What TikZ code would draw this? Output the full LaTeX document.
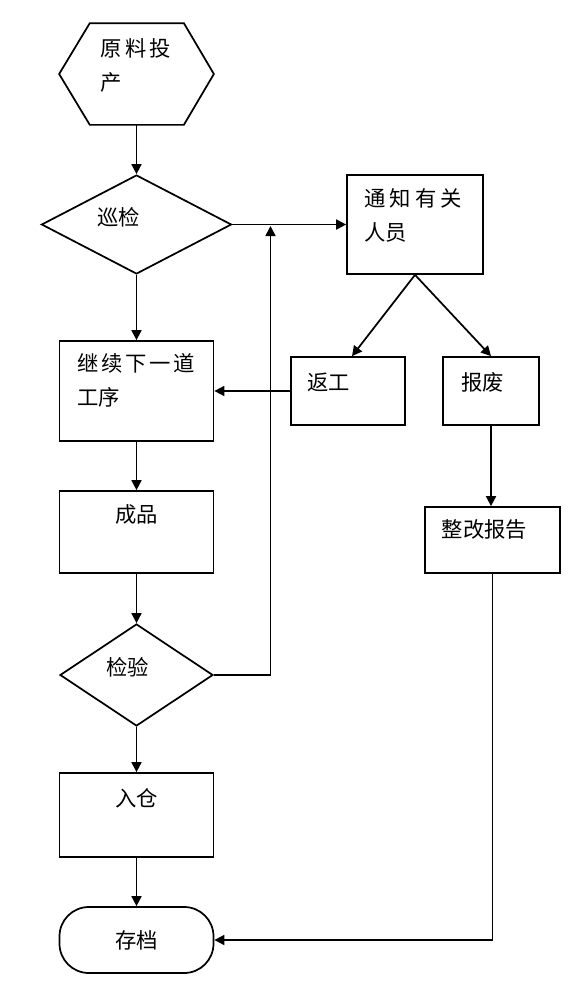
\documentclass[tikz,border=0pt]{standalone}
\usepackage{fontspec}
\newfontfamily\cjk{Noto Sans CJK SC}
\usetikzlibrary{arrows.meta,shapes.geometric}

\begin{document}
\begin{tikzpicture}[x=0.75pt,y=-0.75pt,line width=1.3pt,
	>={Triangle[length=7.5pt,width=7.5pt]},
	base node/.style={inner sep=0pt,font=\cjk\fontsize{16}{25.5}\selectfont},
	box node/.style={base node,rectangle,draw},
	hex node/.style={base node,rectangle,align=left},
	check node/.style={base node,diamond,draw,align=left},
	end node/.style={base node,rectangle,draw,rounded corners=22pt}
]
	\useasboundingbox (0,0) rectangle (578,996);

	\node[hex node,minimum width=114.75pt,minimum height=75pt,text width=54pt,text depth=39.4pt] (raw) at (136.5,74) {原\kern2.5pt料\kern2.5pt投\\产};
	\draw (raw.west) -- ([xshift=23pt]raw.north west) -- ([xshift=-22.5pt]raw.north east) -- (raw.east)
		-- ([xshift=-22.5pt]raw.south east) -- ([xshift=23pt]raw.south west) -- cycle;

	\node[check node,minimum width=142.5pt,minimum height=74.25pt,shape aspect=1.92,text width=58.5pt,text depth=12.4pt] (patrol) at (136.5,224.5) {巡检};
	\node[box node,minimum width=102pt,minimum height=74.25pt,text width=76pt,align=left,text depth=40.2pt] (notify) at (415,224.5) {通\kern3pt知\kern3pt有\kern3pt关\\人员};
	\node[box node,minimum width=115.5pt,minimum height=75pt,text width=88.5pt,align=left,text depth=42.4pt] (next) at (136.5,391) {继\kern2pt续\kern2pt下\kern2pt一\kern2pt道\\工序};
	\node[box node,minimum width=85.5pt,minimum height=51pt,text width=61.5pt,align=left,text depth=13.9pt] (rework) at (348,391) {返工};
	\node[box node,minimum width=72pt,minimum height=51pt,text width=45pt,align=left,text depth=13.9pt] (scrap) at (491,391) {报废};
	\node[box node,minimum width=115.5pt,minimum height=61.5pt,text depth=27.4pt] (product) at (136.5,532) {成品};
	\node[box node,minimum width=101.25pt,minimum height=49.5pt,text width=76pt,align=left,text depth=16.9pt] (report) at (492.5,540) {整改报告};
	\node[check node,minimum width=114.75pt,minimum height=76.5pt,shape aspect=1.5,text width=45pt,text depth=12.4pt] (check) at (136.5,675) {检验};
	\node[box node,minimum width=115.5pt,minimum height=63pt,text depth=25.9pt] (store) at (136.5,815) {入仓};
	\node[end node,minimum width=115.5pt,minimum height=49.5pt] (archive) at (136.5,940) {存档};

	\coordinate (merge) at (270.5,226);

	\draw[->] (raw.south) -- (patrol.north);
	\draw[->] (patrol.east) -- (notify.west);
	\draw[->] (patrol.south) -- (next.north);
	\draw[->] (next.south) -- (product.north);
	\draw[->] (product.south) -- (check.north);
	\draw[->] (check.south) -- (store.north);
	\draw[->] (store.south) -- (archive.north);
	\draw[->] (check.east) -| (merge);
	\draw[->] (notify.south) -- ([xshift=3pt]rework.north);
	\draw[->] (notify.south) -- (scrap.north);
	\draw[->] (rework.west) -- (next.east);
	\draw[->] (scrap.south) -- (scrap.south |- report.north);
	\draw[->] (report.south) |- (archive.east);

\end{tikzpicture}
\end{document}
